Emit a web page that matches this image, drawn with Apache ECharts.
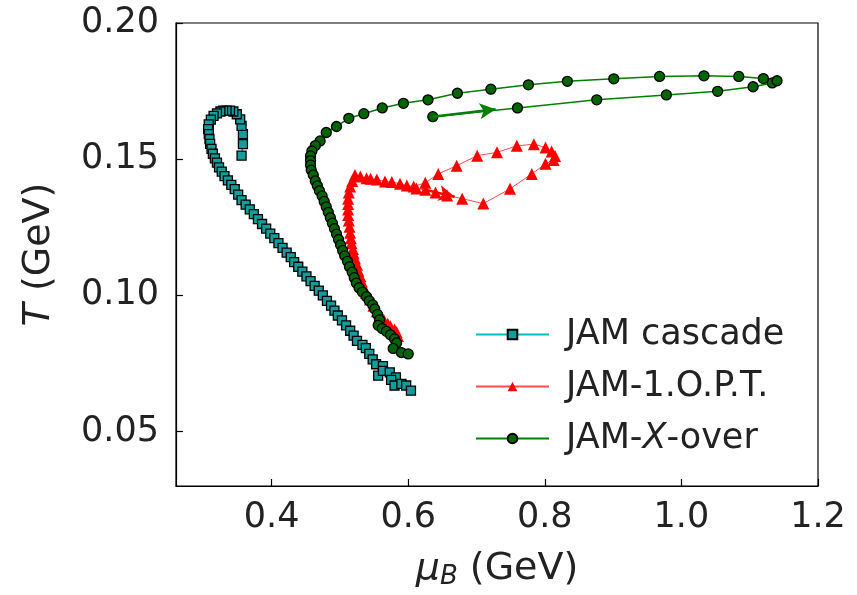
<!DOCTYPE html>
<html>
<head>
<meta charset="utf-8">
<script src="https://cdn.jsdelivr.net/npm/echarts@6/dist/echarts.min.js"></script>
<style>html,body{margin:0;padding:0;background:#fff}#c{width:857px;height:595px}</style>
</head>
<body>
<div id="c"></div>
<script>
// JAM cascade: [mu_B, T]
var cascade = [
[0.356,0.1513],[0.358,0.1555],[0.358,0.1592],[0.356,0.1622],[0.354,0.1646],[0.349,0.1665],[0.344,0.1675],[0.339,0.1678],[0.334,0.1678],[0.329,0.1678],
[0.325,0.1675],[0.320,0.1668],[0.315,0.1659],[0.311,0.1645],[0.308,0.1628],[0.307,0.1610],[0.308,0.1592],[0.309,0.1574],[0.310,0.1556],[0.312,0.1538],
[0.314,0.1520],[0.317,0.1503],[0.320,0.1487],[0.323,0.1470],[0.327,0.1454],[0.331,0.1438],[0.336,0.1422],[0.341,0.1406],[0.346,0.1390],[0.351,0.1370],
[0.356,0.1350],[0.362,0.1333],[0.368,0.1316],[0.374,0.1298],[0.380,0.1280],[0.386,0.1262],[0.392,0.1245],[0.398,0.1227],[0.404,0.1210],[0.410,0.1192],
[0.416,0.1174],[0.422,0.1157],[0.428,0.1140],[0.433,0.1122],[0.439,0.1105],[0.445,0.1087],[0.451,0.1070],[0.457,0.1052],[0.463,0.1035],[0.469,0.1017],
[0.475,0.1000],[0.481,0.0980],[0.487,0.0962],[0.492,0.0944],[0.497,0.0926],[0.503,0.0908],[0.509,0.0890],[0.515,0.0870],[0.520,0.0852],[0.525,0.0833],
[0.533,0.0818],[0.538,0.0806],[0.543,0.0785],[0.548,0.0765],[0.553,0.0747],[0.563,0.0740],[0.556,0.0705],[0.563,0.0723],[0.573,0.0717],[0.582,0.0699],
[0.575,0.0690],[0.580,0.0669],[0.590,0.0675],[0.597,0.0669],[0.604,0.0650]
];
// JAM-1.O.P.T.
var opt1 = [
[0.612,0.1392],[0.625,0.1388],[0.640,0.1378],[0.657,0.1367],[0.679,0.1355],[0.710,0.1337],[0.749,0.1391],[0.781,0.1446],[0.801,0.1483],[0.813,0.1497],
[0.815,0.1512],[0.810,0.1528],[0.801,0.1543],[0.784,0.1555],[0.759,0.1549],[0.730,0.1525],[0.701,0.1513],[0.671,0.1476],[0.644,0.1446],[0.625,0.1413],
[0.608,0.1400],[0.598,0.1403],[0.588,0.1410],[0.576,0.1416],[0.566,0.1418],[0.554,0.1425],[0.545,0.1428],[0.539,0.1430],[0.530,0.1436],[0.522,0.1442],
[0.518,0.1420],[0.515,0.1400],[0.513,0.1378],[0.512,0.1355],[0.512,0.1335],[0.512,0.1315],[0.512,0.1295],[0.513,0.1275],[0.514,0.1252],[0.515,0.1230],
[0.516,0.1210],[0.517,0.1191],[0.519,0.1170],[0.520,0.1155],[0.522,0.1135],[0.525,0.1112],[0.527,0.1090],[0.530,0.1070],[0.532,0.1051],[0.535,0.1030],
[0.538,0.1010],[0.544,0.0985],[0.549,0.0962],[0.554,0.0942],[0.560,0.0925],[0.564,0.0911],[0.570,0.0896],[0.574,0.0887],[0.580,0.0875],[0.583,0.0865],
[0.585,0.0851]
];
// JAM-X-over
var xover = [
[0.636,0.1656],[0.760,0.1688],[0.876,0.1718],[0.978,0.1736],[1.053,0.1749],[1.105,0.1766],[1.133,0.1780],[1.140,0.1788],
[1.120,0.1796],[1.084,0.1804],[1.033,0.1806],[0.968,0.1804],[0.901,0.1795],[0.833,0.1786],[0.776,0.1773],[0.721,0.1757],[0.672,0.1742],[0.629,0.1718],
[0.593,0.1705],[0.562,0.1688],[0.535,0.1667],[0.513,0.1650],[0.495,0.1620],[0.480,0.1598],[0.471,0.1567],[0.464,0.1550],[0.459,0.1530],[0.457,0.1512],
[0.457,0.1495],[0.457,0.1478],[0.458,0.1460],[0.461,0.1442],[0.464,0.1420],[0.467,0.1402],[0.470,0.1384],[0.474,0.1365],[0.477,0.1345],[0.480,0.1325],
[0.483,0.1305],[0.486,0.1285],[0.489,0.1265],[0.492,0.1245],[0.495,0.1225],[0.498,0.1205],[0.501,0.1185],[0.504,0.1165],[0.507,0.1145],[0.511,0.1125],
[0.514,0.1105],[0.518,0.1085],[0.521,0.1065],[0.524,0.1045],[0.528,0.1028],[0.533,0.1012],[0.539,0.0995],[0.543,0.0980],[0.548,0.0965],[0.551,0.0950],
[0.555,0.0930],[0.558,0.0910],[0.556,0.0890],[0.562,0.0878],[0.568,0.0868],[0.574,0.0855],[0.580,0.0840],[0.583,0.0825],[0.578,0.0805],[0.590,0.0790],
[0.600,0.0785]
];
var greenArrow = [[0.636,0.1656],[0.728,0.1683]];
var redArrow = [[0.628,0.1386],[0.668,0.1362]];
var xTicks = [0.4,0.6,0.8,1.0,1.2];
var yTicks = [0.05,0.10,0.15,0.20];
var seriesNames = ['JAM cascade','JAM-1.O.P.T.','JAM-X-over'];

var FONT = 'DejaVu Sans';
var FS = 35;      // tick labels
var FL = 35;      // legend
var FN = 38;      // axis names
var chart = echarts.init(document.getElementById('c'), null, {renderer:'canvas'});
function arrowLine(a, color){
  return {
    silent:true, symbol:['none','arrow'], symbolSize:[12,16],
    label:{show:false},
    lineStyle:{color:color,width:2.5,type:'solid'},
    emphasis:{disabled:true},
    data:[[{coord:a[0]},{coord:a[1]}]]
  };
}
chart.setOption({
  animation:false,
  backgroundColor:'#fff',
  textStyle:{fontFamily:FONT},
  grid:{left:176,right:39,top:23,bottom:107,show:true,borderColor:'#000',borderWidth:1.2,backgroundColor:'transparent'},
  xAxis:{
    type:'value', min:0.26, max:1.2,
    name:'{i|μ}{s|B}{n| (GeV)}', nameLocation:'middle', nameGap:62,
    nameTextStyle:{rich:{
      i:{fontFamily:FONT,fontSize:FN,fontStyle:'italic',color:'#222'},
      s:{fontFamily:FONT,fontSize:26,fontStyle:'italic',color:'#222',padding:[16,0,0,0]},
      n:{fontFamily:FONT,fontSize:FN,color:'#222'}
    }},
    axisLine:{show:true,lineStyle:{color:'#000',width:1.2}},
    axisTick:{show:true,inside:true,length:7,lineStyle:{color:'#000',width:1.2},customValues:xTicks},
    axisLabel:{color:'#222',fontSize:FS,fontFamily:FONT,margin:14,customValues:xTicks,formatter:function(v){return v.toFixed(1);}},
    splitLine:{show:false}
  },
  yAxis:{
    type:'value', min:0.03, max:0.20,
    name:'{i|T}{n| (GeV)}', nameLocation:'middle', nameGap:118, nameRotate:90,
    nameTextStyle:{rich:{
      i:{fontFamily:FONT,fontSize:FN,fontStyle:'italic',color:'#222'},
      n:{fontFamily:FONT,fontSize:FN,color:'#222'}
    }},
    axisLine:{show:true,lineStyle:{color:'#000',width:1.2}},
    axisTick:{show:true,inside:true,length:7,lineStyle:{color:'#000',width:1.2},customValues:yTicks},
    axisLabel:{color:'#222',fontSize:FS,fontFamily:FONT,margin:17,customValues:yTicks,formatter:function(v){return v.toFixed(2);}},
    splitLine:{show:false}
  },
  legend:{
    data:seriesNames, orient:'vertical', left:470, top:312,
    itemWidth:73, itemHeight:12, itemGap:17,
    textStyle:{fontFamily:FONT,fontSize:FL,color:'#222',padding:[0,0,0,12]},
    formatter:function(n){ if(n==='JAM-X-over') return '{a|JAM-}{b|X}{a|-over}'; return '{a|'+n+'}'; },
    inactiveColor:'#ccc'
  },
  series:[
    {name:seriesNames[0], type:'line', data:cascade, symbol:'rect', symbolSize:9,
     lineStyle:{color:'#00bfbf',width:1.5}, itemStyle:{color:'#169c9c',borderColor:'#000',borderWidth:1.3}, z:2},
    {name:seriesNames[1], type:'line', data:opt1, symbol:'triangle', symbolSize:12,
     lineStyle:{color:'#ff4d4d',width:1}, itemStyle:{color:'#ff0000',borderWidth:0}, z:3,
     markLine:arrowLine(redArrow,'#ff0000')},
    {name:seriesNames[2], type:'line', data:xover, symbol:'circle', symbolSize:10,
     lineStyle:{color:'#008000',width:1.5}, itemStyle:{color:'#006400',borderColor:'#000',borderWidth:1.3}, z:4,
     markLine:arrowLine(greenArrow,'#008000')}
  ]
});
chart.setOption({legend:{textStyle:{rich:{
  a:{fontFamily:FONT,fontSize:FL,color:'#222'},
  b:{fontFamily:FONT,fontSize:FL,fontStyle:'italic',color:'#222'}
}}}});
</script>
</body>
</html>
